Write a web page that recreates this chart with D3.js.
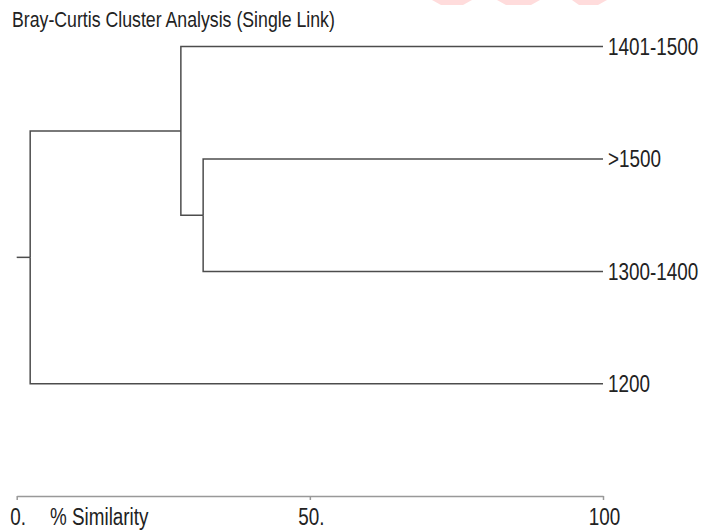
<!DOCTYPE html>
<html lang="en">
<head>
    <meta charset="UTF-8">
    <title>Bray-Curtis Cluster Analysis</title>
    <script src="https://d3js.org/d3.v7.min.js"></script>
    <style>
        * {
            margin: 0;
            padding: 0;
        }

        body {
            background: #fff;
            overflow: hidden;
        }

        svg text {
            font-family: 'Liberation Sans', Arial, sans-serif;
            fill: #222;
        }
    </style>
</head>
<body>
    <div id="chart"></div>

    <script>
        // leaves from top to bottom
        const leafLabels = ['1401-1500', '>1500', '1300-1400', '1200'];

        // each join: its name, the two things it joins, % similarity where they join
        const joinNames = ['g1', 'g2', 'root'];
        const joinChildren = [['>1500', '1300-1400'], ['1401-1500', 'g1'], ['g2', '1200']];
        const joinSimilarity = [31.8, 28.0, 2.3];

        const tickValues = [0, 50, 100];
        const tickLabels = ['0.', '50.', '100'];

        const width = 703;
        const height = 531;
        const squeeze = 0.82; // the original font is a narrow one

        function buildTree() {
            const byName = {};
            leafLabels.forEach(name => {
                byName[name] = { name: name, sim: 100 };
            });
            joinNames.forEach((name, i) => {
                byName[name] = {
                    name: name,
                    sim: joinSimilarity[i],
                    children: joinChildren[i].map(c => byName[c])
                };
            });
            return byName['root'];
        }

        function narrowText(parent, px, py, size, str) {
            return parent.append('text')
                .attr('transform', `translate(${px},${py}) scale(${squeeze},1)`)
                .attr('font-size', size)
                .text(str);
        }

        function drawChart() {
            const svg = d3.select('#chart')
                .append('svg')
                .attr('width', width)
                .attr('height', height);

            // bits of a cut off watermark at the top edge
            svg.append('g')
                .attr('fill', '#ffdcdc')
                .selectAll('path')
                .data(['M432,0 L472,0 L463,5 L441,5 Z', 'M497,0 L540,0 L531,5 L506,5 Z', 'M572,0 L607,0 L598,5 L579,5 Z'])
                .join('path')
                .attr('d', d => d);

            const x = d3.scaleLinear()
                .domain([0, 100])
                .range([16.7, 603]);

            const y = d3.scalePoint()
                .domain(leafLabels)
                .range([46.6, 383.8]);

            const root = d3.hierarchy(buildTree());

            // leaf rows, parents sit halfway between their children
            root.eachAfter(d => {
                if (d.children) {
                    d.yPos = d3.mean(d.children, c => c.yPos);
                } else {
                    d.yPos = y(d.data.name);
                }
            });

            narrowText(svg, 12, 27, 21.6, 'Bray-Curtis Cluster Analysis (Single Link)');

            const tree = svg.append('g')
                .attr('fill', 'none')
                .attr('stroke', '#4d4d4d')
                .attr('stroke-width', 1.5);

            tree.selectAll('.link')
                .data(root.links())
                .join('path')
                .attr('class', 'link')
                .attr('d', d => `M${x(d.source.data.sim)},${d.source.yPos} V${d.target.yPos} H${x(d.target.data.sim)}`);

            // stem of the root back to 0
            tree.append('path')
                .attr('d', `M${x(0)},${root.yPos} H${x(root.data.sim)}`);

            root.leaves().forEach(d => {
                narrowText(svg, x(100) + 5, d.yPos, 23, d.data.name)
                    .attr('class', 'leaf')
                    .attr('dy', '0.36em');
            });

            const axis = d3.axisBottom(x)
                .tickValues(tickValues)
                .tickFormat((d, i) => tickLabels[i])
                .tickSizeInner(4)
                .tickSizeOuter(0)
                .tickPadding(8.7);

            const gx = svg.append('g')
                .attr('transform', 'translate(0,496)')
                .call(axis);

            gx.select('.domain').attr('stroke', '#999').attr('stroke-width', 1.5);
            gx.selectAll('.tick line').attr('stroke', '#999').attr('stroke-width', 1.5);
            gx.selectAll('.tick text')
                .attr('font-size', 23)
                .attr('font-family', null)
                .attr('fill', '#222')
                .attr('transform', `translate(1,0) scale(${squeeze},1)`);

            narrowText(svg, 50, 525, 23, '% Similarity');
        }

        window.onload = drawChart;
    </script>
</body>
</html>
